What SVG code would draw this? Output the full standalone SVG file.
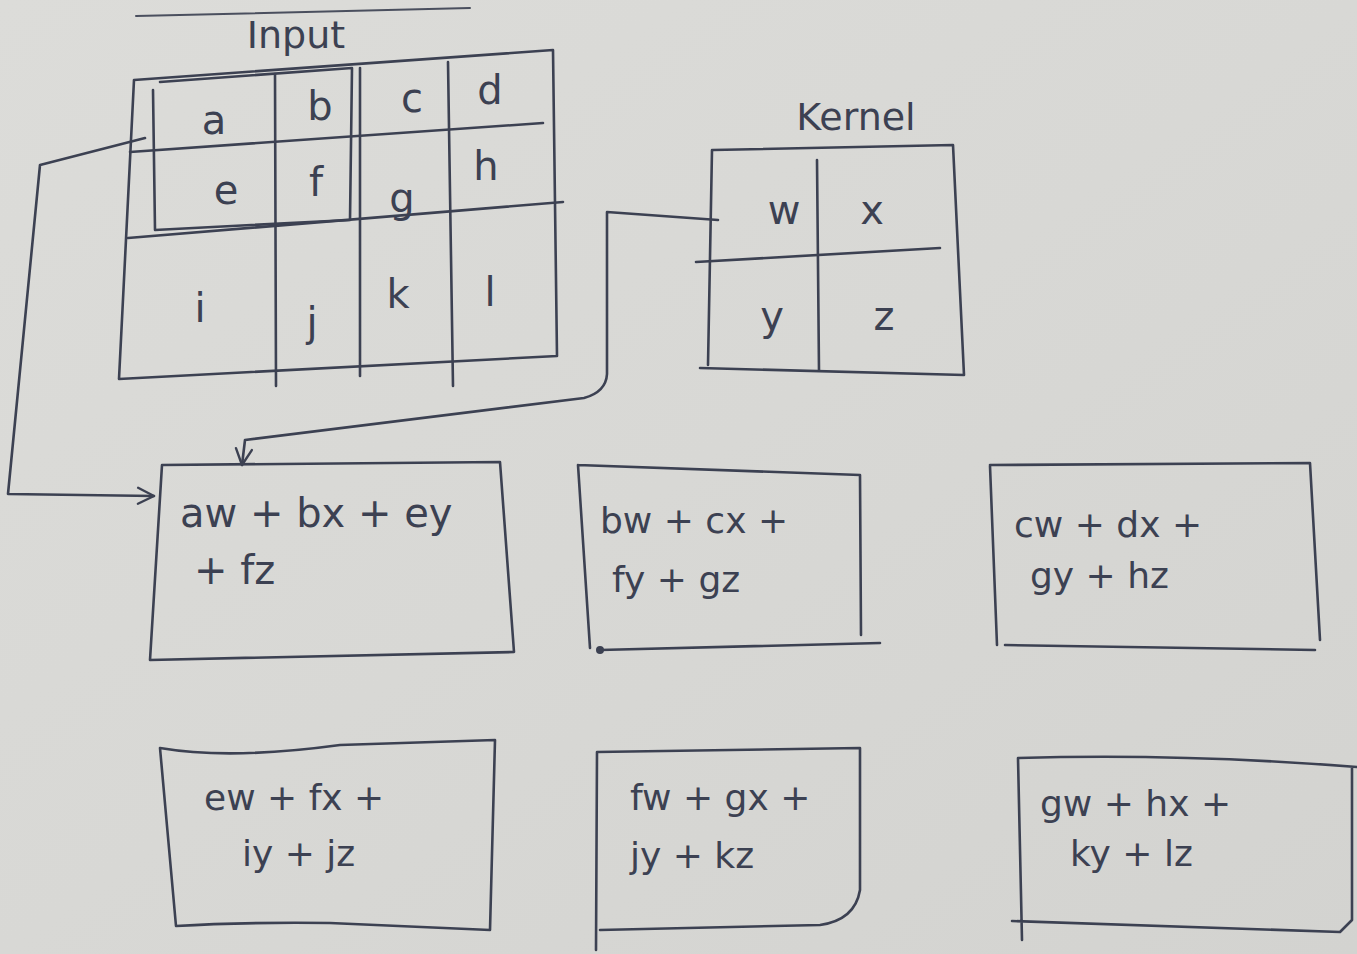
<svg xmlns="http://www.w3.org/2000/svg" width="1357" height="954" viewBox="0 0 1357 954">
  <defs>
    <linearGradient id="paper" x1="0" y1="0" x2="1" y2="1">
      <stop offset="0" stop-color="#dcdcd9"/>
      <stop offset="0.5" stop-color="#d8d8d5"/>
      <stop offset="1" stop-color="#d3d3d0"/>
    </linearGradient>
    <marker id="vee" viewBox="0 0 20 20" refX="18" refY="10" markerWidth="20" markerHeight="20" markerUnits="userSpaceOnUse" orient="auto">
      <path d="M2,2 L18,10 L2,18" fill="none" stroke="#3c4152" stroke-width="2.4" stroke-linecap="round" stroke-linejoin="round"/>
    </marker>
    <style>
      .ink { fill: none; stroke: #3c4152; stroke-width: 2.6; stroke-linecap: round; stroke-linejoin: round; }
      .thin { fill: none; stroke: #4a4f5e; stroke-width: 2; stroke-linecap: round; }
      .cell { font-family: "DejaVu Sans", "Liberation Sans", sans-serif; font-size: 40px; fill: #3c4152; text-anchor: middle; }
      .title { font-family: "DejaVu Sans", "Liberation Sans", sans-serif; font-size: 38px; fill: #3c4152; text-anchor: middle; }
      .eq { font-family: "DejaVu Sans", "Liberation Sans", sans-serif; font-size: 36px; fill: #3c4152; }
      .eq-wide { font-size: 40px; }
    </style>
  </defs>

  <rect width="1357" height="954" fill="url(#paper)"/>

  <!-- ruled line at the top of the page -->
  <path class="thin" d="M136,16 L470,8"/>

  <!-- input matrix 3x4 with the 2x2 window -->
  <g id="input">
    <text class="title" x="296" y="48">Input</text>
    <path class="ink" d="M134,80 L553,50 L557,356 L119,379 Z"/>
    <path class="ink" d="M275,74 L276,386"/>
    <path class="ink" d="M360,68 L360,376"/>
    <path class="ink" d="M448,62 L453,386"/>
    <path class="ink" d="M130,152 L543,123"/>
    <path class="ink" d="M128,238 L563,202"/>
    <!-- highlighted window over a, b, e, f -->
    <path class="ink" d="M160,82 L352,68 L350,220 L155,230 L153,90"/>
    <text class="cell" x="214" y="134">a</text>
    <text class="cell" x="320" y="120">b</text>
    <text class="cell" x="412" y="112">c</text>
    <text class="cell" x="490" y="104">d</text>
    <text class="cell" x="226" y="204">e</text>
    <text class="cell" x="316" y="196">f</text>
    <text class="cell" x="402" y="212">g</text>
    <text class="cell" x="486" y="180">h</text>
    <text class="cell" x="200" y="322">i</text>
    <text class="cell" x="312" y="336">j</text>
    <text class="cell" x="398" y="308">k</text>
    <text class="cell" x="490" y="306">l</text>
  </g>

  <!-- kernel 2x2 -->
  <g id="kernel">
    <text class="title" x="856" y="130">Kernel</text>
    <path class="ink" d="M713,150 L953,145 L964,375 L700,368"/>
    <path class="ink" d="M712,150 L708,365"/>
    <path class="ink" d="M817,160 L819,370"/>
    <path class="ink" d="M696,262 L940,248"/>
    <text class="cell" x="784" y="224">w</text>
    <text class="cell" x="872" y="224">x</text>
    <text class="cell" x="772" y="330">y</text>
    <text class="cell" x="884" y="330">z</text>
  </g>

  <!-- output cells -->
  <g id="out-1">
    <path class="ink" d="M162,465 L500,462 L514,652 L150,660 Z"/>
    <text class="eq eq-wide" x="180" y="527">aw + bx + ey</text>
    <text class="eq eq-wide" x="194" y="584">+ fz</text>
  </g>
  <g id="out-2">
    <path class="ink" d="M578,465 L860,475 L861,635 M600,650 L880,643 M578,465 L590,648"/>
    <circle cx="600" cy="650" r="4" fill="#3c4152"/>
    <text class="eq" x="600" y="533">bw + cx +</text>
    <text class="eq" x="612" y="592">fy + gz</text>
  </g>
  <g id="out-3">
    <path class="ink" d="M990,465 L1310,463 L1320,640 M1005,645 L1315,650 M990,466 L997,645"/>
    <text class="eq" x="1014" y="537">cw + dx +</text>
    <text class="eq" x="1030" y="588">gy + hz</text>
  </g>
  <g id="out-4">
    <path class="ink" d="M160,748 Q230,760 340,745 L495,740 L490,930 L330,923 Q240,922 176,926 Z"/>
    <text class="eq" x="204" y="810">ew + fx +</text>
    <text class="eq" x="242" y="866">iy + jz</text>
  </g>
  <g id="out-5">
    <path class="ink" d="M597,752 L860,748 L860,890 Q855,920 820,925 L600,930 M597,752 L596,950"/>
    <text class="eq" x="630" y="810">fw + gx +</text>
    <text class="eq" x="630" y="868">jy + kz</text>
  </g>
  <g id="out-6">
    <path class="ink" d="M1018,758 Q1180,753 1357,767 M1352,768 L1352,920 L1340,932 Q1150,925 1012,921 M1018,758 L1022,940"/>
    <text class="eq" x="1040" y="816">gw + hx +</text>
    <text class="eq" x="1070" y="866">ky + lz</text>
  </g>

  <!-- connectors feeding the first output cell -->
  <g id="connectors">
    <path class="ink" d="M145,138 L40,165 L8,494 L154,496" marker-end="url(#vee)"/>
    <path class="ink" d="M718,220 L607,212 L607,374 Q606,392 584,398 L245,440 L242,465" marker-end="url(#vee)"/>
  </g>
</svg>
